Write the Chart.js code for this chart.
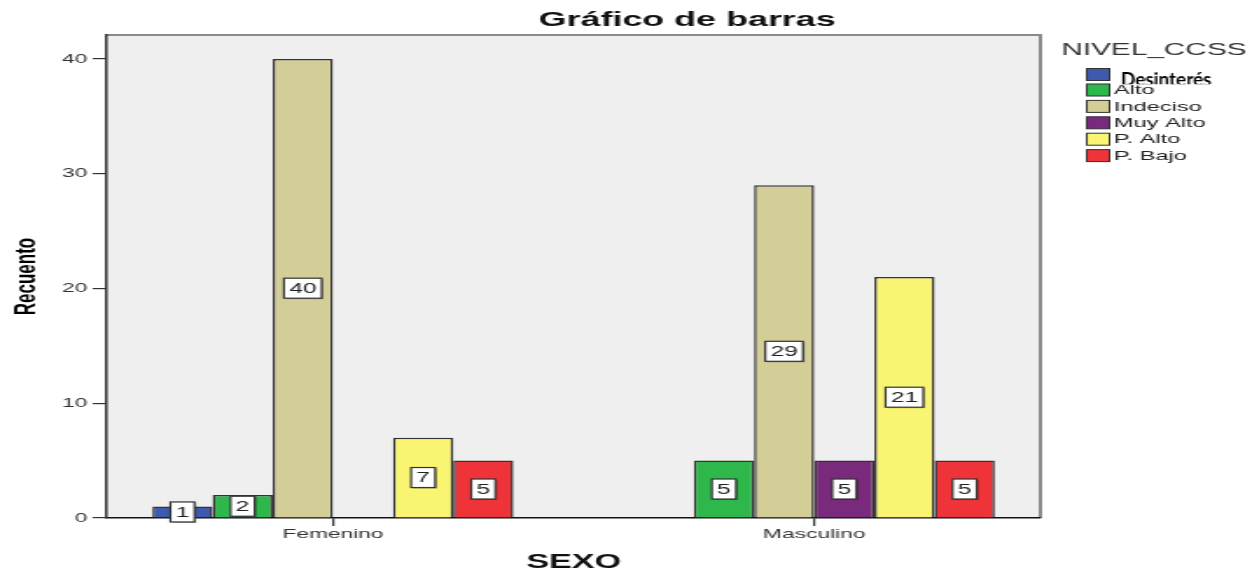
<!DOCTYPE html>
<html>
<head>
<meta charset="utf-8">
<script src="https://cdn.jsdelivr.net/npm/chart.js@4.4.1/dist/chart.umd.min.js"></script>
<style>
  html, body { margin: 0; padding: 0; background: #fff; overflow: hidden; }
  #chart { display: block; }
</style>
</head>
<body>
<canvas id="chart" width="716" height="576" style="width:1252px;height:576px"></canvas>
<script>
const sexo = ['Femenino', 'Masculino'];
const niveles = ['Desinterés', 'Alto', 'Indeciso', 'Muy Alto', 'P. Alto', 'P. Bajo'];
const desinteres = [1, null];
const alto = [2, 5];
const indeciso = [40, 29];
const muyAlto = [null, 5];
const pAlto = [7, 21];
const pBajo = [5, 5];
const yTicks = [0, 10, 20, 30, 40];
const colores = ['#3d5aae', '#2eb84c', '#d3ce97', '#7a2a7c', '#f9f573', '#ee3339'];

// the original picture is stretched sideways: draw narrow, css widens it
const STRETCH = 1252 / 716;
const FONT = "'Liberation Sans', Arial, sans-serif";

Chart.defaults.font.family = FONT;

const series = [desinteres, alto, indeciso, muyAlto, pAlto, pBajo];

const datasets = series.map((vals, i) => ({
    label: niveles[i],
    data: vals.map((v, j) => ({ x: j, y: v })),
    backgroundColor: colores[i],
    borderColor: '#333',
    borderWidth: 1.5,
    barPercentage: 1,
    categoryPercentage: 0.75
}));

// grey plot area with its frame
const frame = {
    id: 'frame',
    beforeDraw(chart) {
        const { ctx, chartArea: a } = chart;
        ctx.save();
        ctx.fillStyle = '#efefef';
        ctx.fillRect(a.left, a.top, a.right - a.left, a.bottom - a.top);
        ctx.strokeStyle = '#8a8a8a';
        ctx.lineWidth = 2;
        ctx.beginPath();
        ctx.moveTo(a.left, a.top);
        ctx.lineTo(a.right, a.top);
        ctx.lineTo(a.right, a.bottom);
        ctx.stroke();
        ctx.restore();
    }
};

// value boxes in the middle of each bar
const valueBoxes = {
    id: 'valueBoxes',
    afterDatasetsDraw(chart) {
        const ctx = chart.ctx;
        ctx.save();
        ctx.font = '14px ' + FONT;
        ctx.textAlign = 'center';
        ctx.textBaseline = 'middle';
        chart.data.datasets.forEach((ds, i) => {
            chart.getDatasetMeta(i).data.forEach((bar, j) => {
                const v = ds.data[j].y;
                if (v == null) return;
                const cy = (bar.y + bar.base) / 2;
                const txt = String(v);
                const w = ctx.measureText(txt).width + 6;
                const h = 20;
                ctx.fillStyle = 'rgba(0,0,0,0.3)';
                ctx.fillRect(bar.x - w / 2 + 1, cy - h / 2 + 1, w, h);
                ctx.fillStyle = '#fff';
                ctx.fillRect(bar.x - w / 2, cy - h / 2, w, h);
                ctx.strokeStyle = '#333';
                ctx.lineWidth = 1.2;
                ctx.strokeRect(bar.x - w / 2, cy - h / 2, w, h);
                ctx.fillStyle = '#222';
                ctx.fillText(txt, bar.x, cy + 1);
            });
        });
        ctx.restore();
    }
};

// title and the legend on the right
const titleLegend = {
    id: 'titleLegend',
    afterDraw(chart) {
        const { ctx, chartArea: a } = chart;
        ctx.save();
        ctx.fillStyle = '#111';
        ctx.font = 'bold 20.5px ' + FONT;
        ctx.textAlign = 'center';
        ctx.textBaseline = 'middle';
        ctx.fillText('Gráfico de barras', 393, 20);

        const lx = a.right + 12;
        ctx.textAlign = 'left';
        ctx.fillStyle = '#333';
        ctx.font = '17px ' + FONT;
        ctx.fillText('NIVEL_CCSS', lx, 50);

        chart.data.datasets.forEach((ds, i) => {
            const cy = i === 0 ? 74.5 : 90 + (i - 1) * 16.4;
            ctx.fillStyle = ds.backgroundColor;
            ctx.fillRect(lx + 14.5, cy - 6, 13, 12);
            ctx.strokeStyle = '#333';
            ctx.lineWidth = 1;
            ctx.strokeRect(lx + 14.5, cy - 6, 13, 12);
            if (i === 0) {
                // this label sits on top of the picture, not stretched, cut by the next row
                ctx.save();
                ctx.beginPath();
                ctx.rect(lx + 30, 60, 100, 24.3);
                ctx.clip();
                ctx.translate(lx + 34, 0);
                ctx.scale(1 / STRETCH, 1);
                ctx.fillStyle = '#000';
                ctx.font = "bold 19px Lato, 'Open Sans', sans-serif";
                ctx.textBaseline = 'alphabetic';
                ctx.fillText(ds.label, 0, 86.4);
                ctx.restore();
            } else {
                ctx.fillStyle = '#222';
                ctx.font = '13.5px ' + FONT;
                ctx.textBaseline = 'middle';
                ctx.fillText(ds.label, lx + 30, cy + 0.5);
            }
        });
        ctx.restore();
    }
};

new Chart(document.getElementById('chart'), {
    type: 'bar',
    data: { datasets },
    options: {
        responsive: false,
        animation: false,
        devicePixelRatio: 1,
        layout: { padding: { top: 35, right: 121, left: 0, bottom: 0 } },
        plugins: {
            legend: { display: false },
            tooltip: { enabled: false }
        },
        scales: {
            x: {
                type: 'linear',
                min: -0.47,
                max: 1.47,
                bounds: 'data',
                offset: false,
                afterBuildTicks: s => { s.ticks = sexo.map((_, i) => ({ value: i })); },
                afterFit: s => { s.height = 58; },
                ticks: {
                    callback: (v, i) => sexo[i],
                    color: '#333',
                    font: { size: 13 },
                    padding: 1,
                    autoSkip: false,
                    maxRotation: 0
                },
                grid: { offset: false, drawOnChartArea: false, tickLength: 8, color: '#333', lineWidth: 1.2 },
                border: { color: '#111', width: 1.5 },
                title: {
                    display: true,
                    text: 'SEXO',
                    color: '#111',
                    font: { size: 19.5, weight: 'bold' },
                    padding: { top: 0, bottom: 2 }
                }
            },
            y: {
                min: 0,
                max: 42.09,
                bounds: 'data',
                afterBuildTicks: s => { s.ticks = yTicks.map(v => ({ value: v })); },
                afterFit: s => { s.width = 61; },
                ticks: { color: '#333', font: { size: 13 }, padding: 3 },
                grid: { drawOnChartArea: false, tickLength: 8, color: '#333', lineWidth: 1.2 },
                border: { color: '#333', width: 1.5 },
                title: {
                    display: true,
                    text: 'Recuento',
                    color: '#000',
                    font: { size: 17, weight: 'bold' },
                    padding: { top: 5, bottom: 0 }
                }
            }
        }
    },
    plugins: [frame, valueBoxes, titleLegend]
});
</script>
</body>
</html>
